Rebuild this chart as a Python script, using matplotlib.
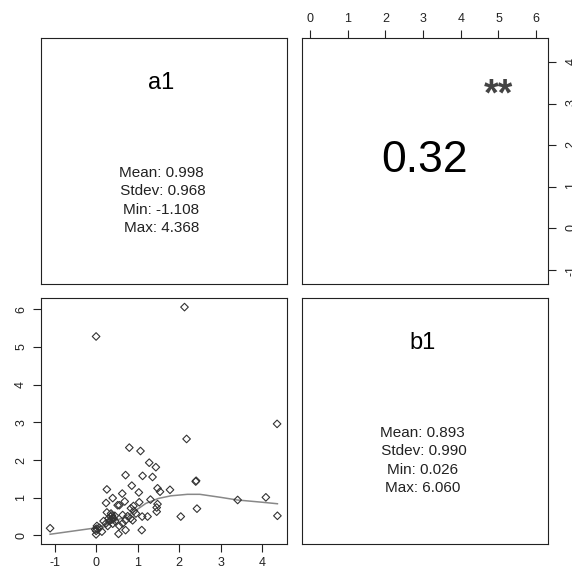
import numpy as np
import matplotlib
matplotlib.use("Agg")
import matplotlib.pyplot as plt

plt.rcParams["font.family"] = ["Liberation Sans", "DejaVu Sans"]
plt.rcParams["axes.unicode_minus"] = False

# paired observations (a1, b1)
a1 = [-1.108, 0.00, 2.13, 4.36, 4.368, 4.09, 3.41, 2.43, 2.40, 2.41,
      2.18, 2.04, 1.78, 1.44, 1.28, 1.36, 1.07, 0.80, 1.12, 0.71,
      0.86, 0.26, 0.63, 1.03, 1.48, 1.54, 1.31, 0.40, 0.24, 0.69,
      0.52, 0.56, 1.04, 1.48, 1.46, 1.46, 1.24, 1.11, 1.10, 0.84,
      0.91, 0.96, 0.83, 0.76, 0.64, 0.71, 0.64, 0.71, 0.54, 0.56,
      0.46, 0.40, 0.36, 0.26, 0.38, 0.32, 0.24, 0.18, 0.28, 0.40,
      0.14, 0.08, 0.00, 0.00, 0.02, 0.02, -0.02, 0.35, 0.42, 0.38,
      0.45, 0.30, 0.88, 0.90]
b1 = [0.19, 5.28, 6.060, 2.96, 0.52, 1.01, 0.94, 0.71, 1.43, 1.45,
      2.56, 0.50, 1.21, 1.81, 1.93, 1.55, 2.24, 2.33, 1.58, 1.60,
      1.32, 1.22, 1.11, 1.14, 1.25, 1.16, 0.95, 0.99, 0.86, 0.90,
      0.80, 0.80, 0.88, 0.83, 0.74, 0.63, 0.50, 0.50, 0.14, 0.72,
      0.65, 0.58, 0.45, 0.51, 0.54, 0.40, 0.32, 0.14, 0.04, 0.25,
      0.38, 0.47, 0.58, 0.61, 0.53, 0.38, 0.32, 0.38, 0.25, 0.31,
      0.10, 0.20, 0.12, 0.026, 0.25, 0.18, 0.16, 0.50, 0.45, 0.42,
      0.52, 0.45, 0.40, 0.78]

# smoother through the scatter
smooth_x = [-1.108, 0.0, 0.3, 0.6, 0.9, 1.2, 1.5, 1.8, 2.2, 2.5, 3.0, 3.4, 4.0, 4.368]
smooth_y = [0.03, 0.20, 0.30, 0.45, 0.62, 0.85, 0.98, 1.05, 1.09, 1.09, 1.01, 0.94, 0.88, 0.84]

stats = {
    "a1": ["Mean: 0.998", " Stdev: 0.968", "Min: -1.108", "Max: 4.368"],
    "b1": ["Mean: 0.893", " Stdev: 0.990", "Min: 0.026", "Max: 6.060"],
}
corr_label = "0.32"
stars = "**"
a1_ticks = [-1, 0, 1, 2, 3, 4]
b1_ticks = [0, 1, 2, 3, 4, 5, 6]

W, H = 572, 578
fig = plt.figure(figsize=(W / 100, H / 100), dpi=100)


def panel(x0, y0, size=245.5):
    return fig.add_axes([x0 / W, 1 - (y0 + size) / H, size / W, size / H])


def r_range(v):
    lo, hi = min(v), max(v)
    d = (hi - lo) * 0.04
    return lo - d, hi + d


xlim_a = r_range(a1)
xlim_b = r_range(b1)

edge = "#222222"
tick_kw = dict(length=5.5, width=0.8, color=edge, labelsize=9,
               labelcolor="#222222", pad=4.5)

ax11 = panel(41, 38)
ax12 = panel(302, 38)
ax21 = panel(41, 298)
ax22 = panel(302, 298)

for ax in (ax11, ax12, ax21, ax22):
    for s in ax.spines.values():
        s.set_color(edge)
        s.set_linewidth(0.8)

# diagonal panels: name + summary stats
for ax, nm in ((ax11, "a1"), (ax22, "b1")):
    ax.set_xticks([])
    ax.set_yticks([])
    ax.set_xlim(0, 1)
    ax.set_ylim(0, 1)
    ax.text(0.49, 0.815, nm, ha="center", va="center", fontsize=17, color="black")
    for i, line in enumerate(stats[nm]):
        ax.text(0.49, 0.45 - 0.075 * i, line, ha="center", va="center",
                fontsize=11, color="#222222")

# upper panel: correlation
ax12.set_xlim(*xlim_b)
ax12.set_ylim(*xlim_a)
ax12.xaxis.tick_top()
ax12.yaxis.tick_right()
ax12.set_xticks(b1_ticks)
ax12.set_yticks(a1_ticks)
ax12.tick_params(**tick_kw)
ax12.tick_params(axis="x", pad=4)
ax12.tick_params(axis="y", labelrotation=90, pad=7.5)
ax12.text(0.5, 0.5, corr_label, transform=ax12.transAxes, ha="center",
          va="center", fontsize=32, color="black")
ax12.text(0.8, 0.765, stars, transform=ax12.transAxes, ha="center",
          va="center", fontsize=27, color="#444444", fontweight="bold")

# lower panel: scatter with smoother
ax21.scatter(a1, b1, marker="D", s=15, facecolors="none", edgecolors="#333333",
             linewidths=0.8, zorder=3)
ax21.plot(smooth_x, smooth_y, color="#888888", lw=1.1, zorder=2)
ax21.set_xlim(*xlim_a)
ax21.set_ylim(*xlim_b)
ax21.set_xticks(a1_ticks)
ax21.set_yticks(b1_ticks)
ax21.tick_params(**tick_kw)
ax21.tick_params(axis="y", labelrotation=90)
for lbl in ax21.get_yticklabels():
    lbl.set_va("center")

fig.savefig("out.png", dpi=100)
